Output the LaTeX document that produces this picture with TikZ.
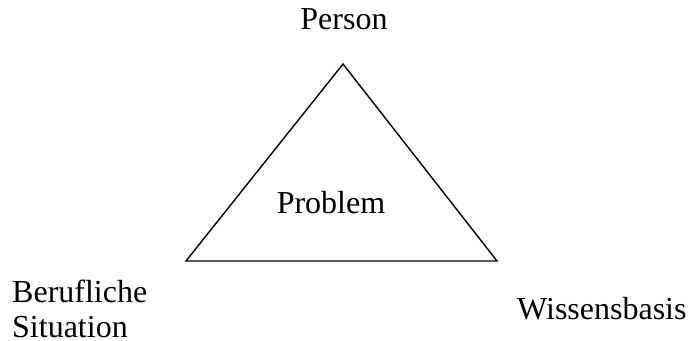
\documentclass[tikz,border=0pt]{standalone}
\usepackage{fontspec}
\setmainfont{Liberation Serif}
\usetikzlibrary{positioning}

\begin{document}
\begin{tikzpicture}[x=1pt, y=-1pt,
  label/.style={font=\fontsize{32}{35}\selectfont, inner sep=0pt}]

\useasboundingbox (0,0) rectangle (690,340);

% Ecken des Dreiecks
\coordinate (top) at (343,64);
\coordinate (left) at (186,261);
\coordinate (right) at (497,261);

% Dreieck
\draw[line width=1.4pt, line join=miter] (top) -- (left) -- (right) -- cycle;

% Beschriftungen
\node[label, anchor=base] (person) at (344,29) {Person};
\node[label, anchor=base] (problem) at (331,213) {Problem};
\node[label, anchor=base west] (beruf) at (12,302) {Berufliche};
\node[label, anchor=base west] (situation) at (12,337) {Situation};
\node[label, anchor=base west] (wissen) at (517,319) {Wissensbasis};

\end{tikzpicture}
\end{document}
